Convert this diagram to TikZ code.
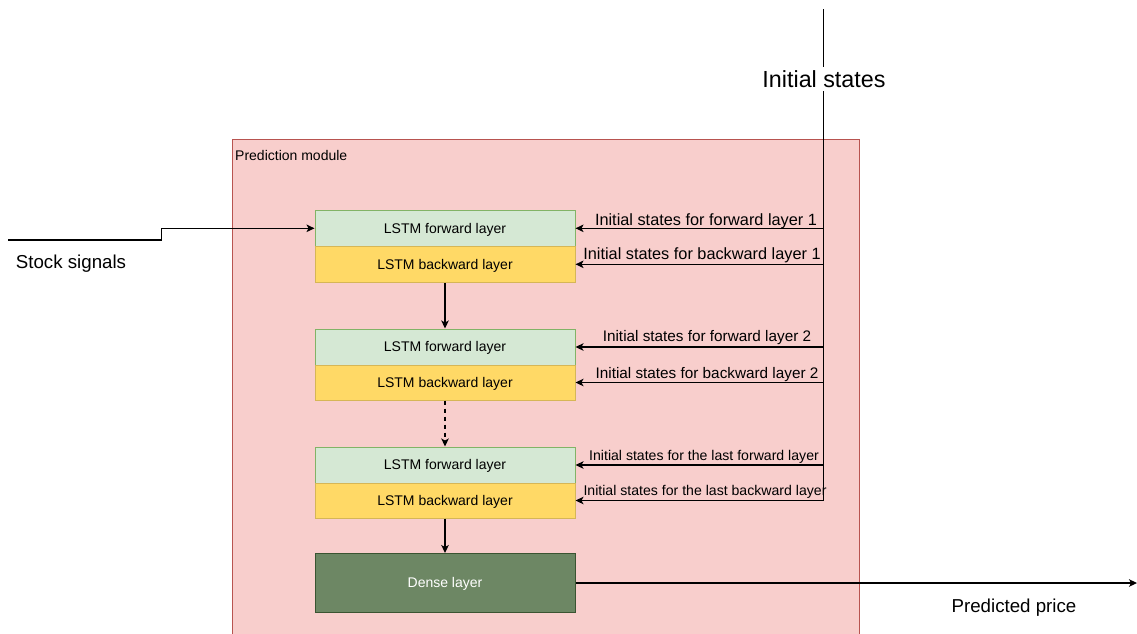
\documentclass[tikz,border=0pt]{standalone}
\usepackage{fontspec}
\setmainfont{Liberation Sans}
\usetikzlibrary{arrows.meta}
\definecolor{modfill}{HTML}{F8CECC}
\definecolor{modline}{HTML}{B85450}
\definecolor{fwdfill}{HTML}{D5E8D4}
\definecolor{fwdline}{HTML}{82B366}
\definecolor{bwdfill}{HTML}{FFD966}
\definecolor{bwdline}{HTML}{D6B656}
\definecolor{densefill}{HTML}{6D8764}
\definecolor{denseline}{HTML}{3A5431}
\tikzset{
  % text boxes are centred on the cap height of their text
  smalltext/.style={font=\fontsize{14}{16}\selectfont, text height=9.8pt, text depth=0pt},
  layerbox/.style={smalltext, minimum width=260pt, minimum height=36pt, inner sep=0pt, line width=1pt},
  fwdbox/.style={layerbox, fill=fwdfill, draw=fwdline},
  bwdbox/.style={layerbox, fill=bwdfill, draw=bwdline},
  densebox/.style={layerbox, minimum height=59pt, fill=densefill, draw=denseline, text=white},
  link/.style={line width=1.2pt, -{Stealth[length=8pt,width=7.5pt,inset=2pt]}},
  plainline/.style={line width=1.2pt},
  labelA/.style={inner sep=0pt, font=\fontsize{16.3}{18}\selectfont, text height=11.4pt, text depth=0pt},
  labelB/.style={inner sep=0pt, font=\fontsize{15.3}{17}\selectfont, text height=10.7pt, text depth=0pt},
  labelC/.style={inner sep=0pt, font=\fontsize{14.1}{16}\selectfont, text height=9.9pt, text depth=0pt},
  biglabel/.style={inner sep=0pt, font=\fontsize{18.7}{21}\selectfont, text height=13.1pt, text depth=0pt},
}
\begin{document}
\begin{tikzpicture}[x=1pt, y=-1pt]
  \useasboundingbox (0,0) rectangle (1137,633);
  \clip (0,0) rectangle (1137,633);

  % prediction module container
  \node[draw=modline, fill=modfill, line width=1.2pt, minimum width=627pt,
        minimum height=504pt, inner sep=0pt, anchor=north west] (module) at (232,139) {};
  \node[smalltext, anchor=west, inner sep=0pt] (modtitle) at (235,155.3) {Prediction module};

  % bidirectional LSTM stack
  \node[fwdbox] (f1) at (445,228.3) {LSTM forward layer};
  \node[bwdbox] (b1) at (445,264.3) {LSTM backward layer};
  \node[fwdbox] (f2) at (445,347) {LSTM forward layer};
  \node[bwdbox, minimum height=35pt] (b2) at (445,382.5) {LSTM backward layer};
  \node[fwdbox] (f3) at (445,465) {LSTM forward layer};
  \node[bwdbox, minimum height=35pt] (b3) at (445,500.5) {LSTM backward layer};
  \node[densebox] (dense) at (445,583) {Dense layer};

  % flow between layers
  \draw[link] (b1.south) -- (f2.north);
  \draw[link, dash pattern=on 4pt off 4pt] (b2.south) -- (f3.north);
  \draw[link] (b3.south) -- (dense.north);

  % input signal
  \coordinate (in) at (8,240);
  \draw[link] (in) -- ++(153.5,0) |- (f1.west);
  \node[biglabel] (stock) at (71,262) {Stock signals};

  % output
  \coordinate (out) at (1137,583);
  \draw[link] (dense.east) -- (out);
  \node[biglabel] (pred) at (1014,606.3) {Predicted price};

  % initial state bus
  \coordinate (top) at (823.5,9);
  \coordinate (bottom) at (823.5,500.5);
  \draw[plainline] (top) -- (bottom);
  \node[inner sep=4pt, fill=white, font=\fontsize{23.3}{26}\selectfont,
        text height=16.3pt, text depth=0pt] (init) at (824,79.3) {Initial states};

  \coordinate (s1) at (823.5,228.3);
  \coordinate (s2) at (823.5,264.3);
  \coordinate (s3) at (823.5,347);
  \coordinate (s4) at (823.5,382.5);
  \coordinate (s5) at (823.5,465);
  \coordinate (s6) at (823.5,500.5);
  \draw[link] (s1) -- (f1.east);
  \draw[link] (s2) -- (b1.east);
  \draw[link] (s3) -- (f2.east);
  \draw[link] (s4) -- (b2.east);
  \draw[link] (s5) -- (f3.east);
  \draw[link] (s6) -- (b3.east);

  \node[labelA] (t1) at (706,219.7) {Initial states for forward layer 1};
  \node[labelA] (t2) at (702,254.2) {Initial states for backward layer 1};
  \node[labelB] (t3) at (707,336.3) {Initial states for forward layer 2};
  \node[labelB] (t4) at (707,373) {Initial states for backward layer 2};
  \node[labelC] (t5) at (704,456) {Initial states for the last forward layer};
  \node[labelC] (t6) at (705,490.3) {Initial states for the last backward layer};
\end{tikzpicture}
\end{document}
